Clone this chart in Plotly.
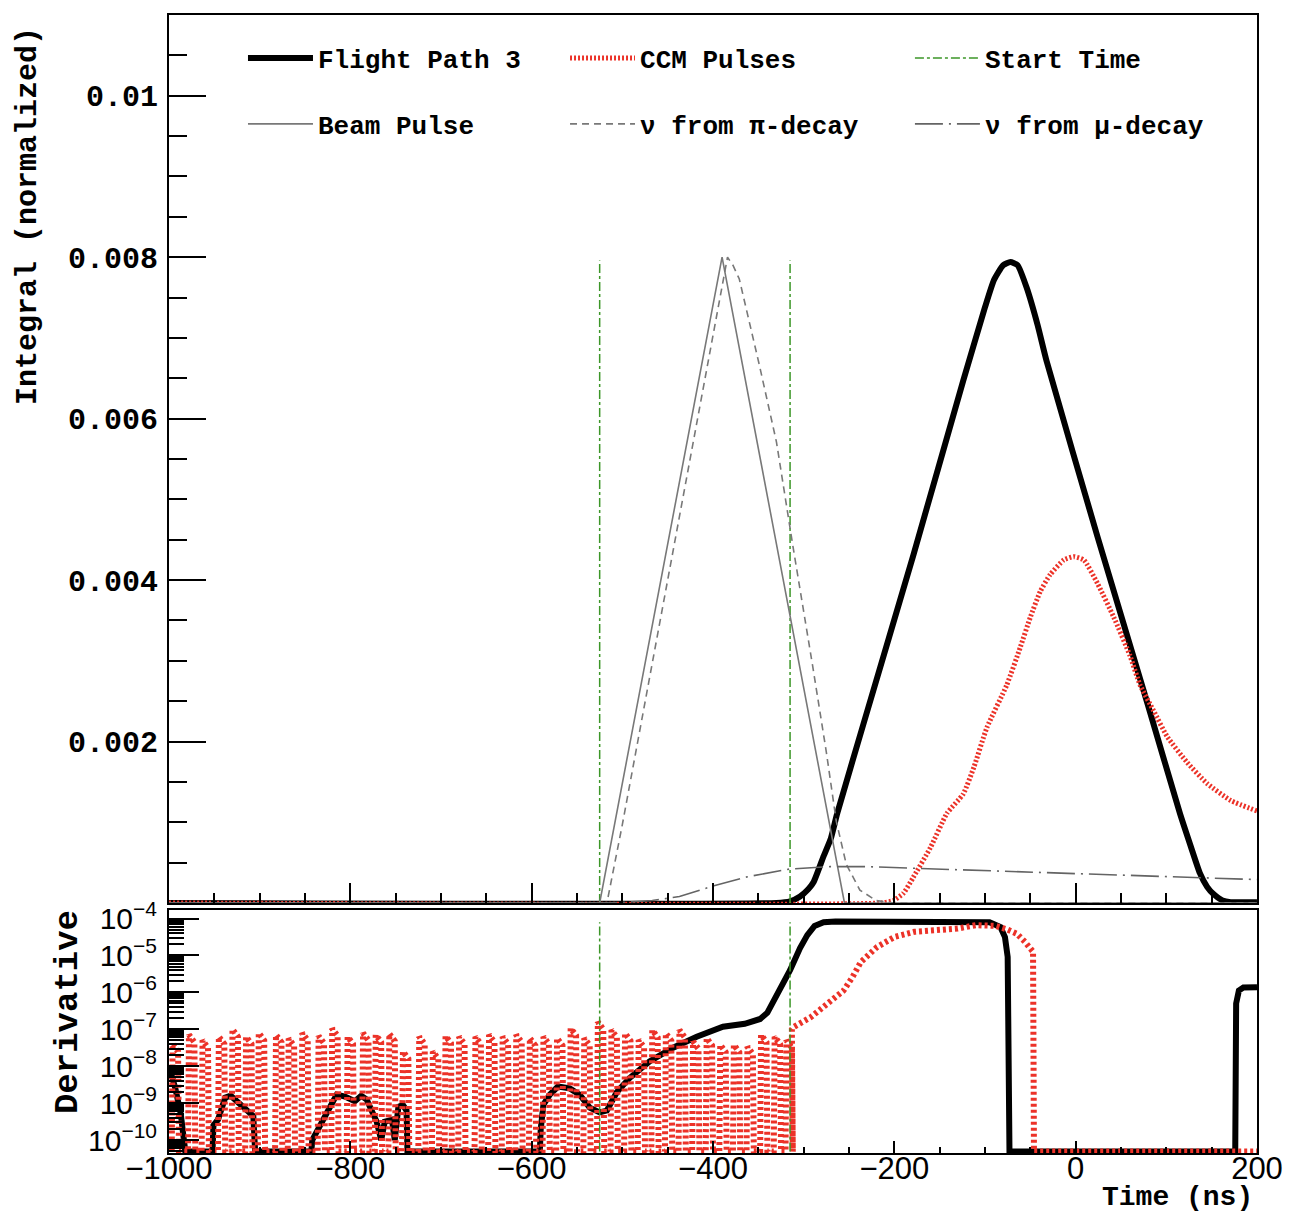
import plotly.graph_objects as go

# ---- top panel: normalized integrals vs time (ns) ----
fp3_t = [-1000, -330, -315, -304, -295, -289, -278, -270, -263, -234, -179, -124,
         -100, -90, -80, -72, -64, -54, -42, -32, 24, 79, 115, 127, 137, 145, 152,
         162, 171, 200]
fp3_v = [0, 0, 0.00002, 0.00008, 0.00017, 0.00026, 0.00058, 0.0008, 0.00111, 0.00222,
         0.00431, 0.00647, 0.00738, 0.00772, 0.0079, 0.00794, 0.0079, 0.00762, 0.00716,
         0.00671, 0.00454, 0.00248, 0.00111, 0.0007, 0.00037, 0.0002, 0.00011,
         0.00003, 0.00001, 0.00001]

ccm_t = [-1000, -215, -201, -190, -179, -160, -142, -124, -112, -98, -76, -61, -50,
         -39, -28, -13, -2, 9, 24, 42, 60, 71, 86, 101, 123, 145, 171, 200]
ccm_v = [0, 0, 0.00003, 0.00012, 0.00032, 0.00069, 0.00111, 0.00135, 0.00169, 0.00217,
         0.0027, 0.00317, 0.00354, 0.00386, 0.00407, 0.00425, 0.00429, 0.00425,
         0.00396, 0.00354, 0.00306, 0.0027, 0.00238, 0.00206, 0.00174, 0.00148,
         0.00127, 0.00114]

start_times = [-525, -315]

beam_t = [-1000, -525, -390, -255, 200]
beam_v = [0, 0, 0.008, 0, 0]

pi_t = [-1000, -517, -500, -450, -420, -400, -390, -384, -378, -371, -360, -349,
        -330, -312, -290, -275, -264, -253, -238, -220, -200, 200]
pi_v = [0, 0, 0.00097, 0.004, 0.0058, 0.007, 0.0076, 0.008, 0.0079, 0.00773, 0.0072,
        0.00667, 0.00571, 0.00443, 0.00293, 0.00187, 0.00101, 0.00048, 0.00016,
        0.00003, 0, 0]

mu_t = [-1000, -520, -496, -467, -437, -400, -364, -316, -271, -230, -179, -100, 0,
        100, 200]
mu_v = [0, 0, 0.00001, 0.00003, 0.00008, 0.00021, 0.00032, 0.00042, 0.00045,
        0.00045, 0.00043, 0.0004, 0.00036, 0.00033, 0.00029]

# ---- bottom panel: derivative, log10 values (FLOOR = empty bins) ----
FLOOR = -10.31
dfp3_t = [-1000, -993, -987, -982,
          -952, -951, -946, -938, -932, -925, -918, -912, -907, -905,
          -843, -842, -832, -821, -815, -806, -795, -788, -782, -777, -771, -766,
          -762, -754, -751, -747, -742, -738, -737,
          -591, -590, -587, -580, -571, -558, -547, -536, -525, -517, -506, -492,
          -470, -444, -418, -389, -365, -348, -340, -332, -324, -315, -304, -296,
          -288, -278, -265, -200, -120, -95, -83, -78, -75, -73,
          176, 177, 180, 185, 200]
dfp3_log = [-8.0, -8.6, -9.3, FLOOR,
            FLOOR, -9.6, -9.45, -8.85, -8.8, -8.95, -9.12, -9.25, -9.35, FLOOR,
            FLOOR, -10.0, -9.5, -9.04, -8.77, -8.82, -8.95, -8.8, -8.9, -9.2, -9.5,
            -10.0, -9.5, -9.45, -10.0, -9.1, -9.05, -9.2, FLOOR,
            FLOOR, -9.7, -9.04, -8.77, -8.55, -8.6, -8.77, -9.12, -9.25, -9.2, -8.7,
            -8.32, -7.87, -7.5, -7.2, -6.93, -6.85, -6.72, -6.55, -6.2, -5.85, -5.4,
            -4.8, -4.45, -4.2, -4.1, -4.08, -4.08, -4.08, -4.1, -4.23, -4.5, -5.04,
            FLOOR,
            FLOOR, -6.3, -5.95, -5.87, -5.86]

comb_t = [-997, -979, -964, -946, -931, -916, -902, -883, -869, -854, -836, -821,
          -804, -787, -773, -758, -743, -725, -710, -696, -681, -663, -648, -633,
          -618, -603, -588, -573, -558, -543, -528, -513, -498, -483, -468, -453,
          -438, -423, -408, -393, -378, -363, -348, -333, -320]
comb_log = [-7.4, -7.15, -7.3, -7.2, -7.0, -7.2, -7.1, -7.15, -7.25, -7.1, -7.18,
            -6.98, -7.2, -7.1, -7.15, -7.12, -7.6, -7.2, -7.6, -7.18, -7.2, -7.2,
            -7.15, -7.2, -7.15, -7.24, -7.2, -7.24, -6.97, -7.24, -6.8, -7.02, -7.11,
            -7.29, -7.02, -7.11, -7.02, -7.33, -7.24, -7.42, -7.42, -7.47, -7.15,
            -7.2, -7.3]
dccm_t = [-313, -311, -300, -292, -274, -256, -246, -237, -219, -200, -178, -155,
          -130, -110, -88, -75, -65, -56, -47, -46, 200]
dccm_log = [-7.0, -6.94, -6.8, -6.67, -6.31, -5.95, -5.58, -5.18, -4.77, -4.5, -4.36,
            -4.33, -4.27, -4.18, -4.2, -4.3, -4.41, -4.63, -4.9, FLOOR, FLOOR]

log_ticks = [-10, -9, -8, -7, -6, -5, -4]

RED = "rgb(236,50,40)"
GREEN = "rgb(60,150,40)"
MONO = "Liberation Mono"

# the noisy low-level part of the CCM derivative: near-vertical strokes up and down
comb_x, comb_y = [], []
for t, p in zip(comb_t, comb_log):
    comb_x += [t, t + 1, t + 7, t + 8]
    comb_y += [10 ** FLOOR, 10 ** p, 10 ** (p - 0.2), 10 ** FLOOR]
comb_x += dccm_t
comb_y += [10 ** v for v in dccm_log]

vx, vy_top, vy_bot = [], [], []
for t in start_times:
    vx += [t, t, None]
    vy_top += [0, 0.00796, None]
    vy_bot += [10 ** FLOOR, 10 ** -4.1, None]

fig = go.Figure()

# top panel, one legend box per entry (3 columns x 2 rows)
fig.add_trace(go.Scatter(x=fp3_t, y=fp3_v, mode='lines', name='Flight Path 3',
                         line=dict(color='black', width=6, shape='spline', smoothing=0.5),
                         legend='legend'))
fig.add_trace(go.Scatter(x=ccm_t, y=ccm_v, mode='lines', name='CCM Pulses',
                         line=dict(color=RED, width=5, dash='2px,2px', shape='spline',
                                   smoothing=0.5),
                         legend='legend2'))
fig.add_trace(go.Scatter(x=vx, y=vy_top, mode='lines', name='Start Time',
                         line=dict(color=GREEN, width=1.5, dash='dashdot'),
                         legend='legend3'))
fig.add_trace(go.Scatter(x=beam_t, y=beam_v, mode='lines', name='Beam Pulse',
                         line=dict(color='rgb(120,120,120)', width=1.6),
                         legend='legend4'))
fig.add_trace(go.Scatter(x=pi_t, y=pi_v, mode='lines', name='\u03bd from \u03c0-decay',
                         line=dict(color='rgb(120,120,120)', width=1.6, dash='7px,5px'),
                         legend='legend5'))
fig.add_trace(go.Scatter(x=mu_t, y=mu_v, mode='lines', name='\u03bd from \u03bc-decay',
                         line=dict(color='rgb(100,100,100)', width=1.6,
                                   dash='28px,6px,2px,6px'),
                         legend='legend6'))

# bottom panel
fig.add_trace(go.Scatter(x=dfp3_t, y=[10 ** v for v in dfp3_log], mode='lines',
                         line=dict(color='black', width=6), showlegend=False,
                         xaxis='x2', yaxis='y2'))
fig.add_trace(go.Scatter(x=comb_x, y=comb_y, mode='lines',
                         line=dict(color=RED, width=6, dash='3px,3px'),
                         showlegend=False, xaxis='x2', yaxis='y2'))
fig.add_trace(go.Scatter(x=vx, y=vy_bot, mode='lines',
                         line=dict(color=GREEN, width=1.5, dash='dashdot'),
                         showlegend=False, xaxis='x2', yaxis='y2'))

axis_common = dict(showline=True, mirror=True, linecolor='black', linewidth=2,
                   showgrid=False, zeroline=False, ticks='inside', tickcolor='black',
                   tickwidth=2)

legend_common = dict(orientation='v', xanchor='left', yanchor='middle',
                     bgcolor='rgba(0,0,0,0)', itemwidth=65,
                     font=dict(family=MONO, size=26, color='black', weight='bold'))
col_x = [0.068, 0.364, 0.681]
row_y = [0.9622, 0.9042]
legends = {}
for i in range(6):
    key = 'legend' if i == 0 else 'legend%d' % (i + 1)
    legends[key] = dict(legend_common, x=col_x[i % 3], y=row_y[i // 3])

# the page body adds an 8 px offset, so the figure is 16 px smaller than the window
fig.update_layout(
    width=1278, height=1204,
    paper_bgcolor='white', plot_bgcolor='white',
    margin=dict(l=161, r=29, t=7, b=59, autoexpand=False),
    xaxis=dict(axis_common, domain=[0, 1], anchor='y', range=[-1000, 200],
               tick0=-1000, dtick=200, ticklen=20, showticklabels=False,
               minor=dict(dtick=50, ticklen=10, ticks='inside', tickcolor='black',
                          tickwidth=2)),
    yaxis=dict(axis_common, domain=[0.2197, 1], anchor='x', range=[0, 0.011],
               tickvals=[0.002, 0.004, 0.006, 0.008, 0.01],
               ticktext=['0.002', '0.004', '0.006', '0.008', '0.01'],
               ticklen=37, ticklabelstandoff=3,
               tickfont=dict(family=MONO, size=30, color='black', weight='bold'),
               minor=dict(dtick=0.0005, ticklen=18, ticks='inside', tickcolor='black',
                          tickwidth=2)),
    xaxis2=dict(axis_common, domain=[0, 1], anchor='y2', range=[-1000, 200],
                tick0=-1000, dtick=200, ticklen=12, ticklabelstandoff=-13,
                tickfont=dict(family='Liberation Sans', size=31, color='black'),
                minor=dict(dtick=50, ticklen=6, ticks='inside', tickcolor='black',
                           tickwidth=2)),
    yaxis2=dict(axis_common, domain=[0, 0.2135], anchor='x2', type='log',
                range=[-10.35, -3.77],
                tickvals=[10 ** v for v in log_ticks],
                ticktext=['10<sup>\u2212%d</sup>' % -v for v in log_ticks],
                ticklen=30, ticklabelstandoff=4,
                tickfont=dict(family='Liberation Sans', size=30, color='black'),
                minor=dict(dtick='D1', ticklen=15, ticks='inside', tickcolor='black',
                           tickwidth=1.5)),
    annotations=[
        dict(text='Integral (normalized)', xref='paper', yref='paper', x=-0.1296,
             y=0.9912, xanchor='center', yanchor='top', textangle=-90, showarrow=False,
             font=dict(family=MONO, size=30, color='black', weight='bold')),
        dict(text='Derivative', xref='paper', yref='paper', x=-0.0928, y=0.1239,
             xanchor='center', yanchor='middle', textangle=-90, showarrow=False,
             font=dict(family=MONO, size=34, color='black', weight='bold')),
        dict(text='Time (ns)', xref='paper', yref='paper', x=0.998, y=-0.0392,
             xanchor='right', yanchor='middle', showarrow=False,
             font=dict(family=MONO, size=28, color='black', weight='bold')),
    ],
    **legends,
)

fig.write_html("out.html")
